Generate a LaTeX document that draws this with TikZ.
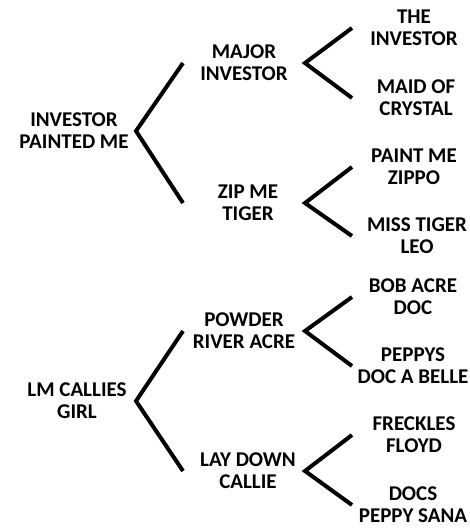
\documentclass[tikz,border=0pt]{standalone}
\usepackage{fontspec}
\setmainfont{Carlito}
\usepackage{tikz}

\begin{document}
\begin{tikzpicture}[x=1pt, y=-1pt,
    horse/.style={align=center, inner sep=0pt,
        font=\bfseries\fontsize{21}{22}\selectfont},
    fork/.style={line width=4pt, line join=miter}]

\useasboundingbox (0,0) rectangle (470,528);

% Columns of the forks
\coordinate (Vtx-1) at (136,0);
\coordinate (Gen-2) at (183,0);
\coordinate (Vtx-2) at (305,0);
\coordinate (Gen-3) at (352,0);

% First generation
\node[horse] (Root-1) at (74,131) {INVESTOR\\PAINTED ME};
\node[horse] (Root-2) at (77,401) {LM CALLIES\\GIRL};

% Second generation
\foreach \i/\x/\y/\txt in {1/244/63/{MAJOR\\INVESTOR},
                           2/248/203/{ZIP ME\\TIGER},
                           3/244/331/{POWDER\\RIVER ACRE},
                           4/248/471/{LAY DOWN\\CALLIE}}
{
    \node[horse] (Mid-\i) at (\x,\y) {\txt};
}

% Third generation
\foreach \i/\x/\y/\txt in {1/414/28/{THE\\INVESTOR},
                           2/416/98/{MAID OF\\CRYSTAL},
                           3/414/167/{PAINT ME\\ZIPPO},
                           4/417/236/{MISS TIGER\\LEO},
                           5/413/297/{BOB ACRE\\DOC},
                           6/413/366/{PEPPYS\\DOC A BELLE},
                           7/414/435/{FRECKLES\\FLOYD},
                           8/413/505/{DOCS\\PEPPY SANA}}
{
    \node[horse] (Leaf-\i) at (\x,\y) {\txt};
}

% Forks Root-Mid
\foreach \p/\a/\b in {Root-1/Mid-1/Mid-2, Root-2/Mid-3/Mid-4}
{
    \draw[fork] (\a -| Gen-2) -- (\p -| Vtx-1) -- (\b -| Gen-2);
}

% Forks Mid-Leaf
\foreach \p/\a/\b in {Mid-1/Leaf-1/Leaf-2, Mid-2/Leaf-3/Leaf-4,
                      Mid-3/Leaf-5/Leaf-6, Mid-4/Leaf-7/Leaf-8}
{
    \draw[fork] (\a -| Gen-3) -- (\p -| Vtx-2) -- (\b -| Gen-3);
}

\end{tikzpicture}
\end{document}
